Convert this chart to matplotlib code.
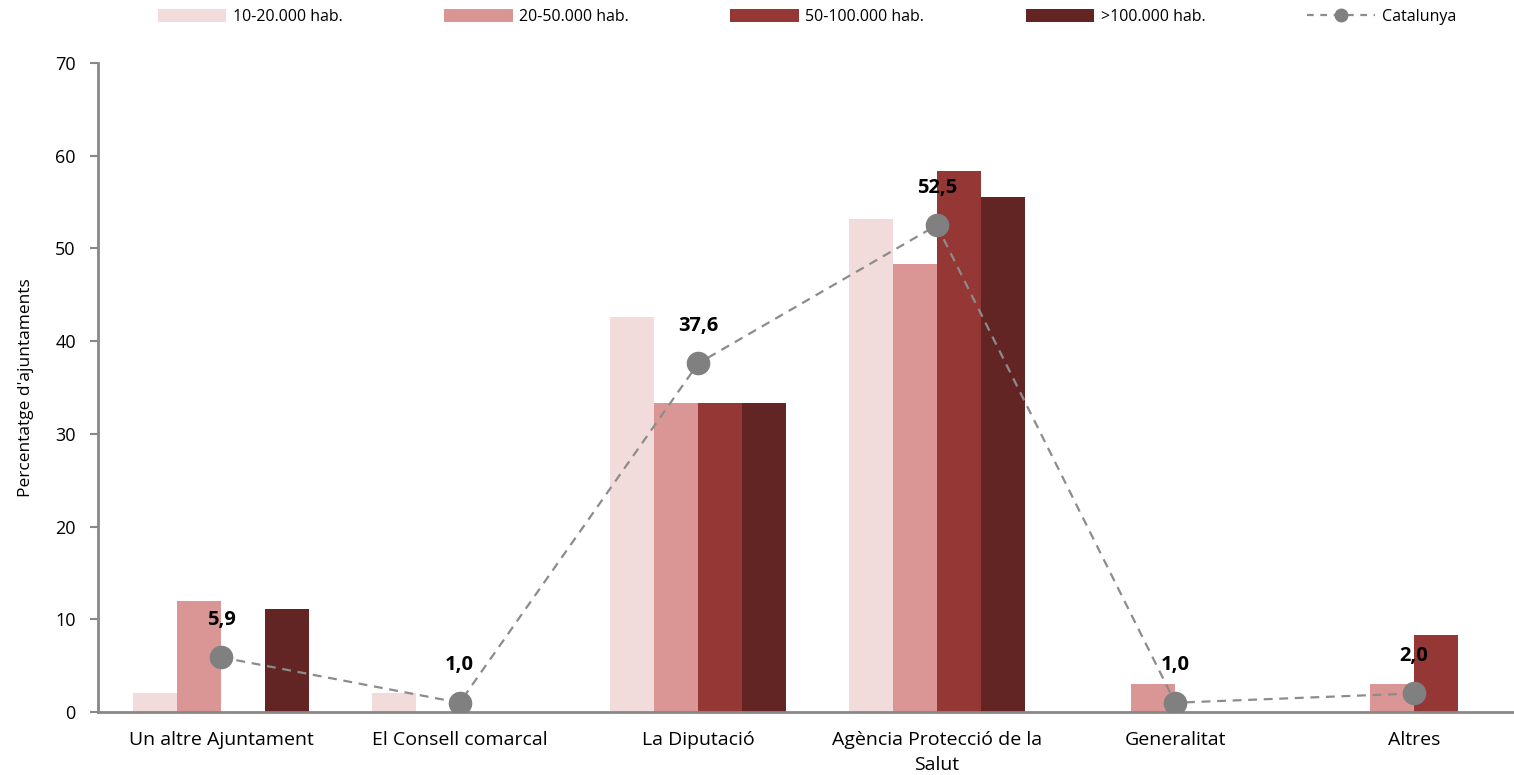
import matplotlib
matplotlib.use("Agg")
import matplotlib.pyplot as plt
from matplotlib.lines import Line2D
import numpy as np

categories = ["Un altre Ajuntament", "El Consell comarcal", "La Diputació",
              "Agència Protecció de la\nSalut", "Generalitat", "Altres"]
series_names = ["10-20.000 hab.", "20-50.000 hab.", "50-100.000 hab.", ">100.000 hab."]
hab_10_20 = [2.1, 2.1, 42.6, 53.2, 0.0, 0.0]
hab_20_50 = [12.0, 0.0, 33.3, 48.3, 3.0, 3.0]
hab_50_100 = [0.0, 0.0, 33.3, 58.3, 0.0, 8.3]
hab_100_plus = [11.1, 0.0, 33.3, 55.6, 0.0, 0.0]
catalunya = [5.9, 1.0, 37.6, 52.5, 1.0, 2.0]
catalunya_labels = ["5,9", "1,0", "37,6", "52,5", "1,0", "2,0"]
y_ticks = [0, 10, 20, 30, 40, 50, 60, 70]

colors = ["#F2DCDB", "#D99694", "#953735", "#632523"]
line_color = "#8c8c8c"
plt.rcParams["font.family"] = ["Open Sans", "DejaVu Sans"]

fig = plt.figure(figsize=(15.14, 7.75), dpi=100)
ax = fig.add_axes([98 / 1514, 63 / 775, 1 - 98 / 1514, (712 - 63) / 775])

x = np.arange(len(categories))
bw = 0.184
all_series = [hab_10_20, hab_20_50, hab_50_100, hab_100_plus]
handles = []
for i, (vals, col, name) in enumerate(zip(all_series, colors, series_names)):
    h = ax.bar(x + (i - 1.5) * bw, vals, width=bw, color=col, label=name, zorder=2)
    handles.append(h)

ax.plot(x, catalunya, color=line_color, linestyle=(0, (4, 3)), linewidth=1.6,
        marker="o", markersize=16, markerfacecolor="#808080",
        markeredgecolor="#808080", zorder=3)
handles.append(Line2D([], [], color=line_color, linestyle=(0, (3, 3)), linewidth=1.6,
                      marker="o", markersize=9, markerfacecolor="#808080",
                      markeredgecolor="#808080"))

for xi, v, lab in zip(x, catalunya, catalunya_labels):
    ax.annotate(lab, (xi, v), xytext=(0, 27), textcoords="offset points",
                ha="center", va="center", fontsize=14.5, fontweight="bold", color="black")

ax.set_xlim(-0.516, 5.42)
ax.set_ylim(0, 70)
ax.set_yticks(y_ticks)
ax.set_yticklabels([str(t) for t in y_ticks], fontsize=13)
ax.set_xticks(x)
ax.set_xticklabels(categories, fontsize=14, linespacing=1.45)
ax.tick_params(axis="x", length=0, pad=14)
ax.tick_params(axis="y", length=6, width=1.5, color="#888888", pad=10)
ax.set_ylabel("Percentatge d'ajuntaments", fontsize=12.5)
ax.yaxis.set_label_coords(-0.045, 0.5)

for s in ["top", "right"]:
    ax.spines[s].set_visible(False)
for s in ["left", "bottom"]:
    ax.spines[s].set_color("#888888")
    ax.spines[s].set_linewidth(2)

fig.legend(handles=handles, labels=series_names + ["Catalunya"], ncol=5,
           loc="center", bbox_to_anchor=(0.533, 0.978), frameon=False,
           fontsize=11.5, handlelength=4.3, handleheight=0.9,
           columnspacing=6.35, handletextpad=0.4)

fig.savefig("out.png", dpi=100)
